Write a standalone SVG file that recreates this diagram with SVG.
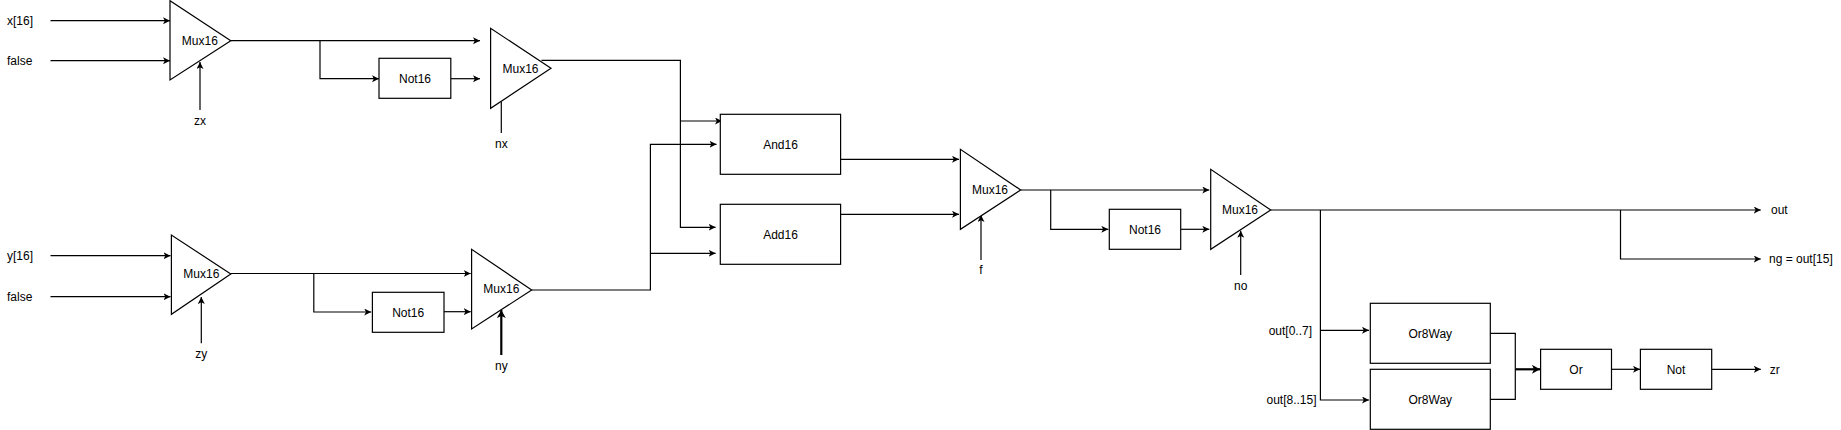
<svg xmlns="http://www.w3.org/2000/svg" width="1841" height="430" viewBox="0 0 1841 430">
<style>
.n{fill:#fff;stroke:#000;stroke-width:1.2}
.t{font-family:"Liberation Sans",Arial,sans-serif;font-size:12px;fill:#000;text-anchor:middle}
.l{text-anchor:start}
.r{text-anchor:end}
.c{fill:none;stroke:#000;stroke-width:1.2}
.a{marker-end:url(#ah)}
.th{stroke-width:2.2;marker-end:url(#ahb)}
</style>
<defs>
<marker id="ah" markerUnits="userSpaceOnUse" markerWidth="10" markerHeight="10" refX="7" refY="3.5" orient="auto">
<path d="M0,0 L7,3.5 L0,7 L1.8,3.5 Z" fill="#000"/>
</marker>
<marker id="ahb" markerUnits="userSpaceOnUse" markerWidth="12" markerHeight="12" refX="8" refY="4.5" orient="auto">
<path d="M0,0 L8,4.5 L0,9 L2,4.5 Z" fill="#000"/>
</marker>
</defs>
<rect width="1841" height="430" fill="#fff"/>
<g id="connectors">
<path class="c a" d="M50.5,20.7 H170"/>
<path class="c a" d="M50.5,60.7 H170"/>
<path class="c a" d="M200,110 V62"/>
<path class="c a" d="M231,40.7 H480"/>
<path class="c a" d="M320,40.7 V78.7 H379"/>
<path class="c a" d="M451,78.7 H480"/>
<path class="c" d="M501.3,101.5 V133"/>
<path class="c a" d="M541.5,60.3 H680.4 V227.3 H715.6"/>
<path class="c a" d="M680.4,121 H722"/>
<path class="c a" d="M50.5,255.7 H170.5"/>
<path class="c a" d="M50.5,296.7 H170.5"/>
<path class="c a" d="M201.3,343.3 V297"/>
<path class="c a" d="M230.8,273.5 H470.7"/>
<path class="c a" d="M313.8,273.5 V312 H371.2"/>
<path class="c a" d="M444,311.7 H470.7"/>
<path class="c th" d="M501.3,355 V310"/>
<path class="c a" d="M531.7,290 H650.4 V144.3 H716.5"/>
<path class="c a" d="M650.4,253.3 H715.6"/>
<path class="c a" d="M840.6,159.3 H959"/>
<path class="c a" d="M840.6,214.3 H959"/>
<path class="c a" d="M981,260 V215"/>
<path class="c a" d="M1020.7,190 H1209.3"/>
<path class="c a" d="M1050.7,190 V229.3 H1108.3"/>
<path class="c a" d="M1180.7,229.3 H1209.3"/>
<path class="c a" d="M1240.7,275 V230.7"/>
<path class="c a" d="M1270.7,210 H1760.8"/>
<path class="c a" d="M1620.5,210 V259 H1760.8"/>
<path class="c a" d="M1320.4,210 V400 H1369"/>
<path class="c a" d="M1320.4,330.3 H1369"/>
<path class="c" d="M1490.3,333.3 H1515.3 V399.3 H1490.3"/>
<path class="c th" d="M1515.3,369.3 H1540"/>
<path class="c a" d="M1611.5,369.3 H1640"/>
<path class="c a" d="M1711.7,369.3 H1760.8"/>
</g>
<g id="labels">
<text class="t l" x="7" y="25">x[16]</text>
<text class="t l" x="7" y="65">false</text>
<text class="t" x="200" y="125.3">zx</text>
<text class="t" x="501.3" y="148.3">nx</text>
<text class="t l" x="7" y="260">y[16]</text>
<text class="t l" x="7" y="301">false</text>
<text class="t" x="201.3" y="358.3">zy</text>
<text class="t" x="501.3" y="370">ny</text>
<text class="t" x="981" y="273.6">f</text>
<text class="t" x="1240.7" y="289.6">no</text>
<text class="t l" x="1771" y="213.6">out</text>
<text class="t l" x="1769" y="263.3">ng = out[15]</text>
<text class="t r" x="1312" y="334.6">out[0..7]</text>
<text class="t r" x="1316.5" y="403.6">out[8..15]</text>
<text class="t l" x="1769.7" y="373.6">zr</text>
</g>
<g id="mux_zx"><path class="n" d="M170,0.7 L170,80 L230.8,40.7 Z"/><text class="t" x="199.8" y="45">Mux16</text></g>
<g id="not_x"><rect class="n" x="379" y="58.3" width="71.8" height="40"/><text class="t" x="415" y="82.6">Not16</text></g>
<g id="mux_nx"><path class="n" d="M490.6,28.3 L490.6,108.3 L551,68.3 Z"/><text class="t" x="520.5" y="72.6">Mux16</text></g>
<g id="mux_zy"><path class="n" d="M171.4,235 L171.4,314.3 L230.8,274 Z"/><text class="t" x="201.3" y="278.3">Mux16</text></g>
<g id="not_y"><rect class="n" x="372.4" y="292.3" width="71.6" height="40"/><text class="t" x="408.2" y="316.6">Not16</text></g>
<g id="mux_ny"><path class="n" d="M471.6,249.3 L471.6,329 L531.7,290 Z"/><text class="t" x="501.3" y="293.3">Mux16</text></g>
<g id="and16"><rect class="n" x="720.3" y="114.3" width="120.3" height="60"/><text class="t" x="780.5" y="148.6">And16</text></g>
<g id="add16"><rect class="n" x="720.3" y="204.3" width="120.3" height="60"/><text class="t" x="780.5" y="238.6">Add16</text></g>
<g id="mux_f"><path class="n" d="M960.4,149.3 L960.4,229.3 L1020.7,190 Z"/><text class="t" x="990" y="194.3">Mux16</text></g>
<g id="not_out"><rect class="n" x="1109.3" y="209.3" width="71.4" height="40"/><text class="t" x="1145" y="233.6">Not16</text></g>
<g id="mux_no"><path class="n" d="M1210.7,169.3 L1210.7,249.3 L1270.7,210 Z"/><text class="t" x="1240" y="213.6">Mux16</text></g>
<g id="or8way1"><rect class="n" x="1370.3" y="303.3" width="120" height="60"/><text class="t" x="1430.3" y="337.6">Or8Way</text></g>
<g id="or8way2"><rect class="n" x="1370.3" y="369.3" width="120" height="60"/><text class="t" x="1430.3" y="403.6">Or8Way</text></g>
<g id="or"><rect class="n" x="1540.6" y="349.3" width="70.9" height="40"/><text class="t" x="1576" y="373.6">Or</text></g>
<g id="not"><rect class="n" x="1640.4" y="349.3" width="71.3" height="40"/><text class="t" x="1676" y="373.6">Not</text></g>
</svg>
